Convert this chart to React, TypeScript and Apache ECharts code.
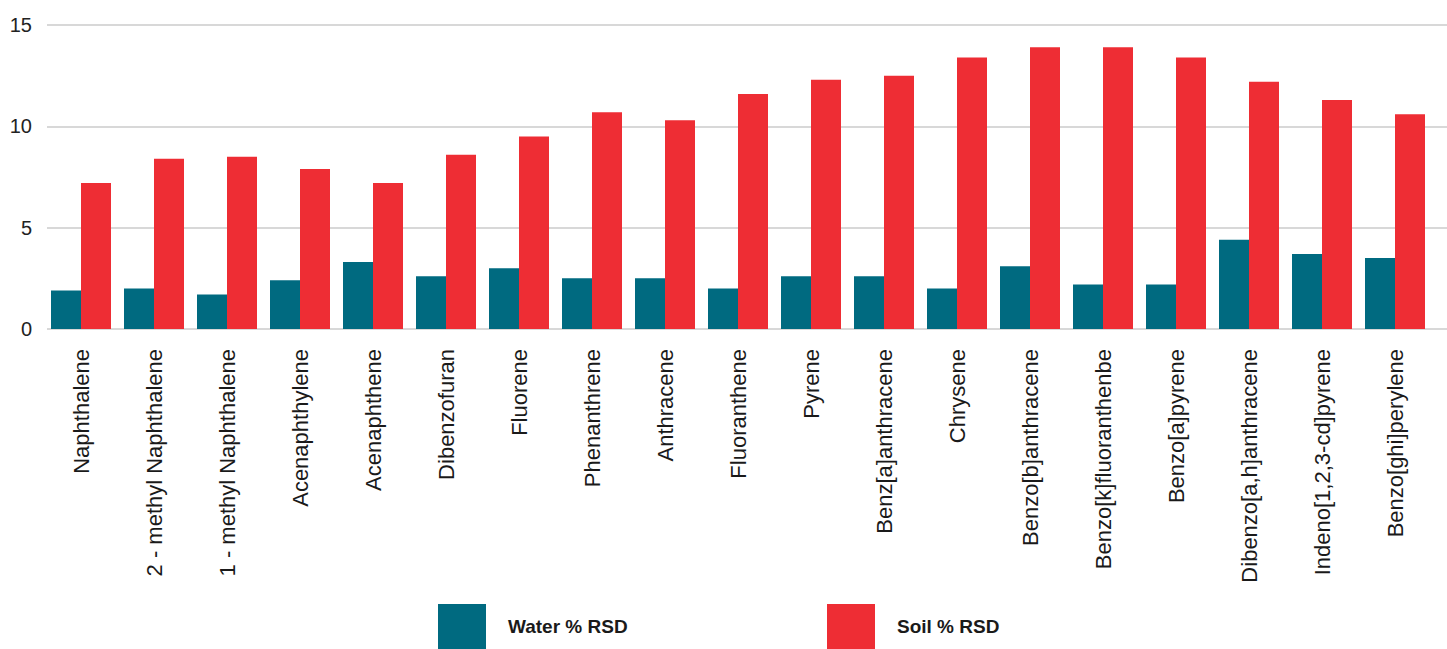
import React, { useEffect, useRef } from "react";
import * as echarts from "echarts";

const categories = [
  "Naphthalene",
  "2 - methyl Naphthalene",
  "1 - methyl Naphthalene",
  "Acenaphthylene",
  "Acenaphthene",
  "Dibenzofuran",
  "Fluorene",
  "Phenanthrene",
  "Anthracene",
  "Fluoranthene",
  "Pyrene",
  "Benz[a]anthracene",
  "Chrysene",
  "Benzo[b]anthracene",
  "Benzo[k]fluoranthenbe",
  "Benzo[a]pyrene",
  "Dibenzo[a,h]anthracene",
  "Indeno[1,2,3-cd]pyrene",
  "Benzo[ghi]perylene",
];

const waterRSD = [1.9, 2.0, 1.7, 2.4, 3.3, 2.6, 3.0, 2.5, 2.5, 2.0, 2.6, 2.6, 2.0, 3.1, 2.2, 2.2, 4.4, 3.7, 3.5];
const soilRSD = [7.2, 8.4, 8.5, 7.9, 7.2, 8.6, 9.5, 10.7, 10.3, 11.6, 12.3, 12.5, 13.4, 13.9, 13.9, 13.4, 12.2, 11.3, 10.6];

const yMin = 0;
const yMax = 15;
const yInterval = 5;

const WATER = "#006a80";
const SOIL = "#ee2d34";
const FONT = "'Liberation Sans', Arial, Helvetica, sans-serif";

export default function App() {
  const ref = useRef<HTMLDivElement>(null);

  useEffect(() => {
    if (!ref.current) return;
    const chart = echarts.init(ref.current, undefined, { renderer: "svg" });
    chart.setOption({
      animation: false,
      backgroundColor: "#ffffff",
      textStyle: { fontFamily: FONT },
      grid: [
        { left: 47, right: 0, top: 25, bottom: 320 },
        { left: 44.5, right: 15.5, top: 25, bottom: 320 },
      ],
      legend: [
        {
          data: ["Water % RSD"],
          left: 438,
          top: 604,
          padding: 0,
          itemWidth: 48,
          itemHeight: 45,
          icon: "rect",
          textStyle: { fontSize: 19, fontWeight: "bold", color: "#1a1a1a", fontFamily: FONT, padding: [0, 0, 0, 17] },
        },
        {
          data: ["Soil % RSD"],
          left: 827,
          top: 604,
          padding: 0,
          itemWidth: 48,
          itemHeight: 45,
          icon: "rect",
          textStyle: { fontSize: 19, fontWeight: "bold", color: "#1a1a1a", fontFamily: FONT, padding: [0, 0, 0, 17] },
        },
      ],
      xAxis: [
        { type: "value", gridIndex: 0, min: 0, max: 1, show: false },
        {
          type: "category",
          gridIndex: 1,
          data: categories,
          axisLine: { show: false },
          axisTick: { show: false },
          axisLabel: {
            rotate: 90,
            interval: 0,
            margin: 20,
            fontSize: 22,
            color: "#1a1a1a",
            fontFamily: FONT,
          },
        },
      ],
      yAxis: [
        {
          type: "value",
          gridIndex: 0,
          min: yMin,
          max: yMax,
          interval: yInterval,
          axisLine: { show: false },
          axisTick: { show: false },
          axisLabel: { fontSize: 20, color: "#222222", margin: 15, fontFamily: FONT },
          splitLine: { lineStyle: { color: "#cbcbcb", width: 1.5 } },
        },
        { type: "value", gridIndex: 1, min: yMin, max: yMax, show: false, splitLine: { show: false } },
      ],
      series: [
        {
          name: "Water % RSD",
          type: "bar",
          xAxisIndex: 1,
          yAxisIndex: 1,
          data: waterRSD,
          barWidth: 30,
          barGap: "0%",
          itemStyle: { color: WATER },
        },
        {
          name: "Soil % RSD",
          type: "bar",
          xAxisIndex: 1,
          yAxisIndex: 1,
          data: soilRSD,
          barWidth: 30,
          barGap: "0%",
          itemStyle: { color: SOIL },
        },
      ],
    });
    return () => chart.dispose();
  }, []);

  return (
    <div
      ref={ref}
      style={{ position: "fixed", left: 0, top: 0, width: 1447, height: 649 }}
    />
  );
}
